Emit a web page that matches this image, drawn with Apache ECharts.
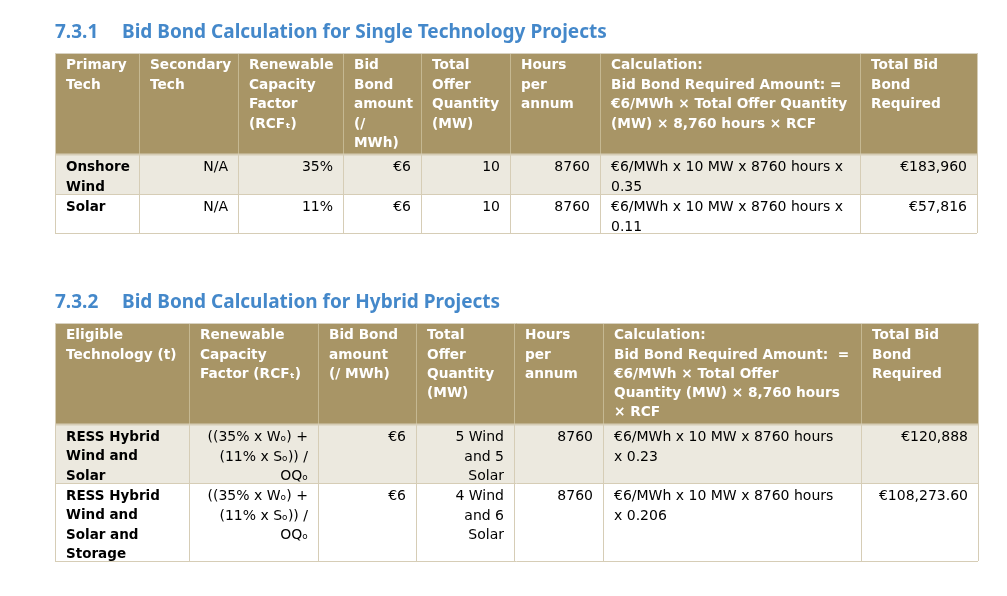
<!DOCTYPE html>
<html>
<head>
<meta charset="utf-8">
<script src="https://cdn.jsdelivr.net/npm/echarts@6/dist/echarts.min.js"></script>
<style>
html,body{margin:0;padding:0;background:#fff;}
#main{width:1007px;height:596px;}
</style>
</head>
<body>
<div id="main"></div>
<script>
// ---------- DATA ----------
const title1Number = "7.3.1";
const title1Text = "Bid Bond Calculation for Single Technology Projects";
const headers1 = [
  "Primary\nTech",
  "Secondary\nTech",
  "Renewable\nCapacity\nFactor\n(RCFₜ)",
  "Bid\nBond\namount\n(/\nMWh)",
  "Total\nOffer\nQuantity\n(MW)",
  "Hours\nper\nannum",
  "Calculation:\nBid Bond Required Amount: =\n€6/MWh × Total Offer Quantity\n(MW) × 8,760 hours × RCF",
  "Total Bid\nBond\nRequired"
];
const rows1 = [
  ["Onshore\nWind", "N/A", "35%", "€6", "10", "8760", "€6/MWh x 10 MW x 8760 hours x\n0.35", "€183,960"],
  ["Solar", "N/A", "11%", "€6", "10", "8760", "€6/MWh x 10 MW x 8760 hours x\n0.11", "€57,816"]
];
const align1 = ["left", "right", "right", "right", "right", "right", "left", "right"];

const title2Number = "7.3.2";
const title2Text = "Bid Bond Calculation for Hybrid Projects";
const headers2 = [
  "Eligible\nTechnology (t)",
  "Renewable\nCapacity\nFactor (RCFₜ)",
  "Bid Bond\namount\n(/ MWh)",
  "Total\nOffer\nQuantity\n(MW)",
  "Hours\nper\nannum",
  "Calculation:\nBid Bond Required Amount:  =\n€6/MWh × Total Offer\nQuantity (MW) × 8,760 hours\n× RCF",
  "Total Bid\nBond\nRequired"
];
const rows2 = [
  ["RESS Hybrid\nWind and\nSolar", "((35% x Wₒ) +\n(11% x Sₒ)) /\nOQₒ", "€6", "5 Wind\nand 5\nSolar", "8760", "€6/MWh x 10 MW x 8760 hours\nx 0.23", "€120,888"],
  ["RESS Hybrid\nWind and\nSolar and\nStorage", "((35% x Wₒ) +\n(11% x Sₒ)) /\nOQₒ", "€6", "4 Wind\nand 6\nSolar", "8760", "€6/MWh x 10 MW x 8760 hours\nx 0.206", "€108,273.60"]
];
const align2 = ["left", "right", "right", "right", "right", "left", "right"];

// ---------- LAYOUT ----------
const TITLE_FONT = "'Noto Sans', 'DejaVu Sans', sans-serif";
const FONT = "'DejaVu Sans', 'Noto Sans', sans-serif";
const titleColor = "#4488CA";
const headerBg = "#A89566";
const headerSep = "#C5B892";
const shadeBg = "#ECE9DF";
const borderCol = "#D6CDB6";

const layout1 = {
  titleY: 33,
  cols: [55, 139, 238, 343, 421, 510, 600, 860, 977],
  rows: [53, 154, 194, 233],
  lh: 19.5
};
const layout2 = {
  titleY: 303,
  cols: [55, 189, 318, 416, 514, 603, 861, 978],
  rows: [323, 424, 483, 561],
  lh: 19.3
};

function buildTable(L, tNum, tText, headers, rows, aligns) {
  const els = [];
  els.push({type: 'text', style: {text: tNum, x: L.cols[0], y: L.titleY, fill: titleColor,
    font: "bold 19px " + TITLE_FONT, textVerticalAlign: 'middle', textAlign: 'left'}});
  els.push({type: 'text', style: {text: tText, x: 122, y: L.titleY, fill: titleColor,
    font: "bold 19px " + TITLE_FONT, textVerticalAlign: 'middle', textAlign: 'left'}});
  const x0 = L.cols[0], x1 = L.cols[L.cols.length - 1];
  els.push({type: 'rect', shape: {x: x0, y: L.rows[0], width: x1 - x0, height: L.rows[1] - L.rows[0]},
    style: {fill: headerBg}});
  for (let r = 0; r < rows.length; r++) {
    els.push({type: 'rect', shape: {x: x0, y: L.rows[r + 1], width: x1 - x0, height: L.rows[r + 2] - L.rows[r + 1]},
      style: {fill: r % 2 === 0 ? shadeBg : '#ffffff'}});
  }
  for (let c = 0; c < L.cols.length; c++) {
    const x = Math.round(L.cols[c]) + 0.5;
    const inner = c > 0 && c < L.cols.length - 1;
    els.push({type: 'line', shape: {x1: x, y1: L.rows[0], x2: x, y2: L.rows[1]},
      style: {stroke: inner ? headerSep : borderCol, lineWidth: 1}});
    els.push({type: 'line', shape: {x1: x, y1: L.rows[1], x2: x, y2: L.rows[L.rows.length - 1]},
      style: {stroke: borderCol, lineWidth: 1}});
  }
  for (let r = 0; r < L.rows.length; r++) {
    const y = Math.round(L.rows[r]) + 0.5;
    els.push({type: 'line', shape: {x1: x0, y1: y, x2: x1, y2: y},
      style: {stroke: r === 0 ? '#D8D2C2' : borderCol, lineWidth: r === 1 ? 2 : 1}});
  }
  headers.forEach((h, c) => {
    els.push({type: 'text', style: {text: h, x: L.cols[c] + 11, y: L.rows[0] + 3,
      fill: '#ffffff', font: "bold 13.7px " + FONT, lineHeight: L.lh,
      textAlign: 'left', textVerticalAlign: 'top'}});
  });
  rows.forEach((row, r) => {
    row.forEach((v, c) => {
      const a = aligns[c];
      const x = a === 'right' ? L.cols[c + 1] - 10 : L.cols[c] + 11;
      els.push({type: 'text', style: {text: v, x: x, y: L.rows[r + 1] + 4,
        fill: '#000000', font: (c === 0 ? "bold 13.5px " : "14px ") + FONT, lineHeight: L.lh,
        textAlign: a, textVerticalAlign: 'top'}});
    });
  });
  return els;
}

const chart = echarts.init(document.getElementById('main'), null, {renderer: 'canvas'});
chart.setOption({
  backgroundColor: '#ffffff',
  animation: false,
  graphic: {elements: [].concat(
    buildTable(layout1, title1Number, title1Text, headers1, rows1, align1),
    buildTable(layout2, title2Number, title2Text, headers2, rows2, align2)
  )}
});
</script>
</body>
</html>
